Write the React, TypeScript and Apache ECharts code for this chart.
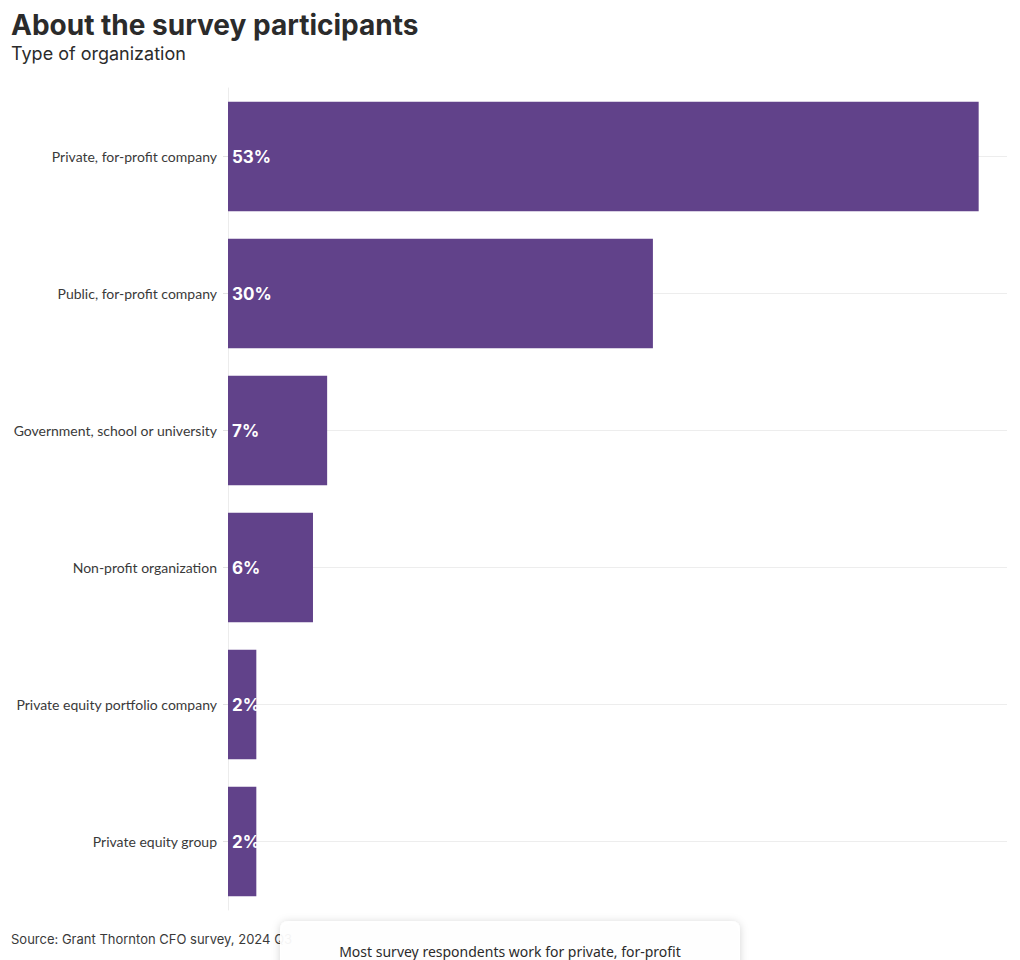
import React, { useEffect, useRef } from "react";
import * as echarts from "echarts";

const categories = [
  "Private, for-profit company",
  "Public, for-profit company",
  "Government, school or university",
  "Non-profit organization",
  "Private equity portfolio company",
  "Private equity group",
];
const values = [53, 30, 7, 6, 2, 2];
const title = "About the survey participants";
const subtitle = "Type of organization";
const source = "Source: Grant Thornton CFO survey, 2024 Q3";
const note = "Most survey respondents work for private, for-profit";

export default function App() {
  const ref = useRef<HTMLDivElement>(null);
  useEffect(() => {
    if (!ref.current) return;
    const chart = echarts.init(ref.current, undefined, { renderer: "svg" });
    chart.setOption({
      animation: false,
      backgroundColor: "#ffffff",
      textStyle: { fontFamily: "Lato, 'Noto Sans', sans-serif" },
      grid: { left: 228, right: 13, top: 88, bottom: 50, containLabel: false },
      xAxis: {
        type: "value",
        min: 0,
        max: 55,
        show: false,
        splitLine: { show: false },
      },
      yAxis: {
        type: "category",
        data: categories,
        inverse: true,
        axisLine: { show: true, lineStyle: { color: "#ececec", width: 1 } },
        axisTick: { show: true, alignWithLabel: true, length: 5, lineStyle: { color: "#e2e2e2" } },
        splitLine: { show: true, alignWithLabel: true, lineStyle: { color: "#ededed", width: 1 } },
        axisLabel: {
          color: "#3a3a3a",
          fontSize: 14,
          margin: 11,
          fontFamily: "Lato, 'Noto Sans', sans-serif",
        },
      },
      series: [
        {
          type: "bar",
          data: values,
          barCategoryGap: "20%",
          itemStyle: { color: "#61428a" },
          z: 3,
          label: {
            show: true,
            position: "insideLeft",
            distance: 4,
            formatter: "{c}%",
            color: "#ffffff",
            fontSize: 17,
            fontWeight: "bold",
            fontFamily: "Inter, 'Noto Sans', sans-serif",
          },
        },
      ],
      graphic: [
        {
          type: "text",
          left: 11,
          top: 11,
          style: {
            text: title,
            fontSize: 28,
            fontWeight: "bold",
            fill: "#2b2b2b",
            fontFamily: "Inter, 'Noto Sans', sans-serif",
          },
        },
        {
          type: "text",
          left: 11,
          top: 44,
          style: {
            text: subtitle,
            fontSize: 18,
            fill: "#2b2b2b",
            fontFamily: "Inter, 'Noto Sans', sans-serif",
          },
        },
        {
          type: "text",
          left: 11,
          top: 932,
          style: {
            text: source,
            fontSize: 13,
            fill: "#3a3a3a",
            fontFamily: "Inter, 'Noto Sans', sans-serif",
          },
        },
        {
          type: "rect",
          shape: { x: 280, y: 921, width: 460, height: 60, r: 8 },
          style: {
            fill: "rgba(255,255,255,0.94)",
            shadowBlur: 8,
            shadowColor: "rgba(0,0,0,0.18)",
            shadowOffsetY: 1,
          },
          z: 10,
        },
        {
          type: "text",
          x: 510,
          y: 951,
          z: 11,
          style: {
            text: note,
            fontSize: 14,
            fill: "#2b2b2b",
            align: "center",
            verticalAlign: "middle",
            fontFamily: "'Noto Sans', sans-serif",
          },
        },
      ],
    });
    return () => chart.dispose();
  }, []);
  return (
    <div
      ref={ref}
      style={{ position: "fixed", left: 0, top: 0, width: 1020, height: 960 }}
    />
  );
}
